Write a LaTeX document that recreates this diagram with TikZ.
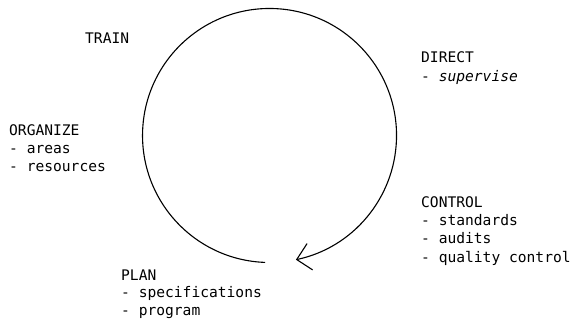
\documentclass[tikz,border=0pt]{standalone}
\usepackage{fontspec}
\setmonofont{DejaVu Sans Mono}
\usetikzlibrary{arrows.meta}
\tikzset{
  stagetext/.style={anchor=base west,inner sep=0pt,font=\ttfamily\fontsize{14.6}{18}\selectfont},
  cyclearrow/.style={line width=1.1pt,-{Straight Barb[angle=90:19pt,line width=1.1pt]}}
}

\begin{document}
\begin{tikzpicture}[x=1pt,y=1pt]
\useasboundingbox (0,0) rectangle (573,-322);
% the management cycle
\coordinate (cyclestart) at (265.1,-262.4);
\draw[cyclearrow] (cyclestart) arc[start angle=268,end angle=-78,radius=127];
% stages round the cycle
\node[stagetext] (train) at (85,-43.3) {TRAIN};
\node[stagetext] (direct) at (421,-62.7) {DIRECT};
\node[stagetext] (direct1) at (421,-81) {- \itshape supervise};
\node[stagetext] (organize) at (9,-135) {ORGANIZE};
\node[stagetext] (organize1) at (9,-153.3) {- areas};
\node[stagetext] (organize2) at (9,-171.7) {- resources};
\node[stagetext] (control) at (421,-207.5) {CONTROL};
\node[stagetext] (control1) at (421,-225.5) {- standards};
\node[stagetext] (control2) at (421,-243.5) {- audits};
\node[stagetext] (control3) at (421,-262) {- quality control};
\node[stagetext] (plan) at (121,-280) {PLAN};
\node[stagetext] (plan1) at (121,-297.7) {- specifications};
\node[stagetext] (plan2) at (121,-315) {- program};
\end{tikzpicture}
\end{document}
